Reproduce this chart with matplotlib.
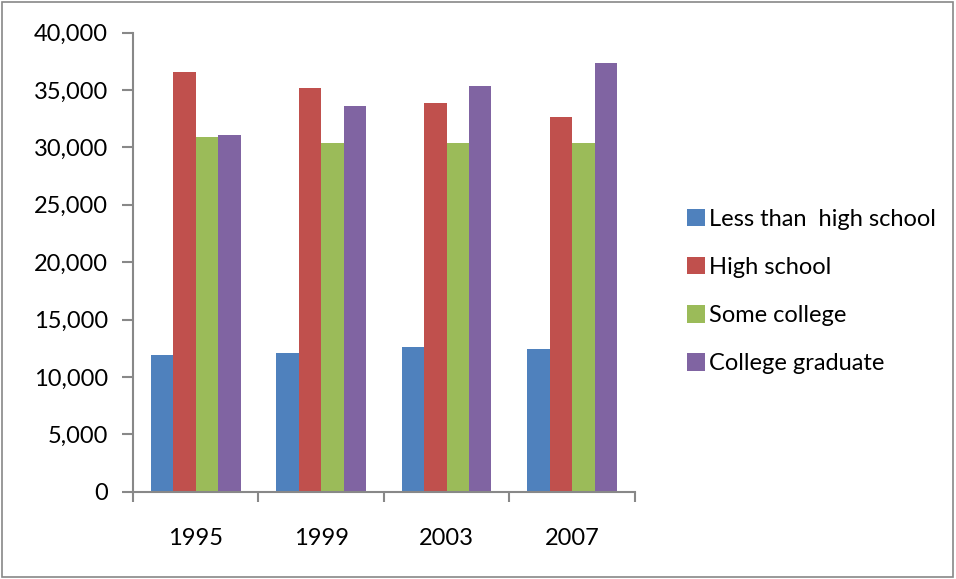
import matplotlib
matplotlib.use("Agg")
import matplotlib.pyplot as plt
import numpy as np
from matplotlib.ticker import FuncFormatter, FixedLocator
from matplotlib.patches import Rectangle

years = ["1995", "1999", "2003", "2007"]
series = ["Less than  high school", "High school", "Some college", "College graduate"]
less_hs = [11950, 12100, 12650, 12450]
high_school = [36600, 35200, 33850, 32630]
some_college = [30880, 30370, 30370, 30370]
college_grad = [31060, 33640, 35380, 37330]
colors = ["#4F81BD", "#C0504D", "#9BBB59", "#8064A2"]

plt.rcParams['font.family'] = ['Lato', 'DejaVu Sans']

fig = plt.figure(figsize=(9.56, 5.79), dpi=100)
ax = fig.add_axes([0.139, 0.1508, 0.525, 0.7927])

values = [less_hs, high_school, some_college, college_grad]
x = np.arange(len(years))
w = 0.179
for i, (vals, name, c) in enumerate(zip(values, series, colors)):
    ax.bar(x + (i - 1.5) * w, vals, width=w, color=c, label=name, edgecolor='none')

ax.set_xlim(-0.5, len(years) - 0.5)
ax.set_ylim(0, 40000)
ax.set_yticks(np.arange(0, 40001, 5000))
ax.yaxis.set_major_formatter(FuncFormatter(lambda v, p: f"{int(v):,}"))
ax.set_xticks(x)
ax.set_xticklabels(years)
ax.xaxis.set_minor_locator(FixedLocator(np.arange(-0.5, len(years), 1.0)))
ax.tick_params(axis='x', which='major', length=0, pad=26, labelsize=17)
ax.tick_params(axis='x', which='minor', length=7, width=1.5, color='#888888', direction='out')
ax.tick_params(axis='y', length=8, width=1.5, color='#888888', direction='out', labelsize=17, pad=10)
for s in ['top', 'right']:
    ax.spines[s].set_visible(False)
for s in ['left', 'bottom']:
    ax.spines[s].set_color('#888888')
    ax.spines[s].set_linewidth(1.5)

leg = ax.legend(loc='center left', bbox_to_anchor=(1.104, 0.436), frameon=False,
                fontsize=17, handlelength=0.75, handleheight=0.75, handletextpad=0.2,
                labelspacing=1.15, borderaxespad=0, borderpad=0)

fig.patches.append(Rectangle((0.002, 0.003), 0.995, 0.994, transform=fig.transFigure,
                             fill=False, edgecolor='#888888', linewidth=1.2))

fig.savefig("out.png", dpi=100)
